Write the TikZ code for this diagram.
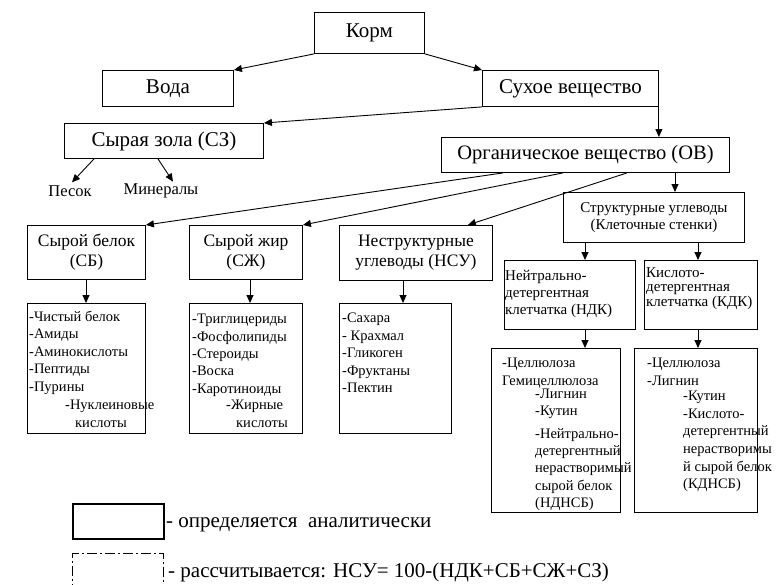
\documentclass[tikz,border=0pt]{standalone}
\usepackage{fontspec}
\setmainfont{Liberation Serif}
\usetikzlibrary{arrows.meta,calc}
\newcommand\myfs[2]{\fontsize{#1}{#2}\selectfont}
\tikzset{
  box/.style={draw, line width=0.9pt, inner sep=0pt, anchor=north west, align=center},
  arr/.style={-{Triangle[length=8pt,width=7pt]}, line width=0.9pt},
  txt/.style={inner sep=0pt, align=left, anchor=north west},
  bigf/.style={font=\myfs{21}{25}},
  midf/.style={font=\myfs{17.5}{20}},
  lstf/.style={font=\myfs{14.5}{17.4}},
}
\begin{document}
\begin{tikzpicture}[x=1pt,y=-1pt]
\useasboundingbox (0,0) rectangle (782,584);
% main boxes
\node[box, bigf, minimum width=110pt, minimum height=41pt] (korm) at (314,12) {Корм};
\node[box, bigf, minimum width=131pt, minimum height=36pt] (voda) at (102,70) {Вода};
\node[box, bigf, minimum width=176pt, minimum height=36pt] (suh) at (482,70) {Сухое вещество};
\node[box, bigf, minimum width=199pt, minimum height=35pt] (sz) at (64,123) {Сырая зола (СЗ)};
\node[box, font=\myfs{20.5}{24}, minimum width=288pt, minimum height=35pt] (ov) at (441,137) {Органическое вещество (ОВ)};
\node[box, font=\myfs{15}{17}, minimum width=181pt, minimum height=50pt] (str) at (563,192) {Структурные углеводы\\(Клеточные стенки)};
\node[box, midf, minimum width=118pt, minimum height=54pt] (sb) at (27,225) {Сырой белок\\(СБ)};
\node[box, midf, minimum width=113pt, minimum height=54pt] (szh) at (189,225) {Сырой жир\\(СЖ)};
\node[box, midf, minimum width=153pt, minimum height=55pt] (nsu) at (339,225) {Неструктурные\\углеводы (НСУ)};
\node[box, minimum width=131pt, minimum height=69pt] (ndk) at (504,260) {};
\node[box, minimum width=113pt, minimum height=69pt] (kdk) at (644,260) {};
\node[txt, font=\myfs{15}{17}] (ndkT) at (505,270) {Нейтрально-\\детергентная\\клетчатка (НДК)};
\node[txt, font=\myfs{15}{14.5}] (kdkT) at (646,267) {Кислото-\\детергентная\\клетчатка (КДК)};
% ash parts
\node[inner sep=0pt, font=\myfs{16.5}{19}] (pesok) at (70,191) {Песок};
\node[inner sep=0pt, font=\myfs{16.5}{19}] (min) at (161,191) {Минералы};
% list boxes
\node[box, minimum width=118pt, minimum height=130pt] (sbL) at (27,303) {};
\node[box, minimum width=113pt, minimum height=130pt] (szhL) at (189,303) {};
\node[box, minimum width=112pt, minimum height=130pt] (nsuL) at (339,303) {};
\node[box, minimum width=129pt, minimum height=164pt] (ndkL) at (491,348) {};
\node[box, minimum width=123pt, minimum height=164pt] (kdkL) at (634,348) {};
% list texts
\node[txt, lstf] (sbT) at (29,311) {-Чистый белок\\-Амиды\\-Аминокислоты\\-Пептиды\\-Пурины};
\node[txt, lstf] (sbT2) at (65,400) {-Нуклеиновые\\\hspace*{10pt}кислоты};
\node[txt, lstf] (szhT) at (192,314) {-Триглицериды\\-Фосфолипиды\\-Стероиды\\-Воска\\-Каротиноиды};
\node[txt, lstf] (szhT2) at (226,400) {-Жирные\\\hspace*{10pt}кислоты};
\node[txt, lstf] (nsuT) at (342,313) {-Сахара\\- Крахмал\\-Гликоген\\-Фруктаны\\-Пектин};
\node[txt, font=\myfs{14.5}{18}] (ndkT1) at (502,358) {-Целлюлоза\\Гемицеллюлоза};
\node[txt, font=\myfs{14.5}{17}] (ndkT2) at (535,389) {-Лигнин\\-Кутин};
\node[txt, lstf] (ndkT3) at (535,428) {-Нейтрально-\\детергентный\\нерастворимый\\сырой белок\\(НДНСБ)};
\node[txt, font=\myfs{14.5}{18}] (kdkT1) at (647,358) {-Целлюлоза\\-Лигнин};
\node[txt, font=\myfs{14.5}{17.6}] (kdkT2) at (683,391) {-Кутин\\-Кислото-\\детергентный\\нерастворимы\\й сырой белок\\(КДНСБ)};
% arrows
\draw[arr] (korm.south west) -- (voda.north east);
\draw[arr] (korm.south east) -- (suh.north west);
\draw[arr] (suh.south west) -- (sz.north east);
\draw[arr] (suh.south east) -- (suh.south east |- ov.north);
\draw[arr] ([xshift=30pt]sz.south west) -- ([xshift=2pt,yshift=3pt]pesok.north);
\draw[arr] ([xshift=94pt]sz.south west) -- ([xshift=12pt,yshift=2pt]min.north);
\draw[arr] ([xshift=62pt]ov.south west) -- (sb.north east);
\draw[arr] ([xshift=122pt]ov.south west) -- (szh.north east);
\draw[arr] ([xshift=186pt]ov.south west) -- ([xshift=-25pt]nsu.north east);
\draw[arr] ([xshift=234pt]ov.south west) -- ([xshift=234pt]ov.south west |- str.north);
\draw[arr] ([xshift=59pt]sb.south west) -- ([xshift=59pt]sb.south west |- sbL.north);
\draw[arr] ([xshift=61pt]szh.south west) -- ([xshift=61pt]szh.south west |- szhL.north);
\draw[arr] ([xshift=64pt]nsu.south west) -- ([xshift=64pt]nsu.south west |- nsuL.north);
\draw[arr] ([xshift=22pt]str.south west) -- ([xshift=22pt]str.south west |- ndk.north);
\draw[arr] ([xshift=135pt]str.south west) -- ([xshift=135pt]str.south west |- kdk.north);
\draw[arr] ([xshift=81pt]ndk.south west) -- ([xshift=81pt]ndk.south west |- ndkL.north);
\draw[arr] ([xshift=54pt]kdk.south west) -- ([xshift=54pt]kdk.south west |- kdkL.north);
% legend
\node[box, line width=1.6pt, minimum width=91pt, minimum height=35pt] (leg1) at (72,503) {};
\node[inner sep=0pt, anchor=west, font=\myfs{21}{25}] (leg1t) at (166,525) {- определяется\ \ аналитически};
\node[box, line width=1.3pt, dash pattern=on 10pt off 3pt on 2pt off 3pt, minimum width=91pt, minimum height=40pt] (leg2) at (72,553) {};
\node[inner sep=0pt, anchor=west, font=\myfs{21}{25}] (leg2t) at (168,572) {- рассчитывается: НСУ= 100-(НДК+СБ+СЖ+СЗ)};
\end{tikzpicture}
\end{document}
